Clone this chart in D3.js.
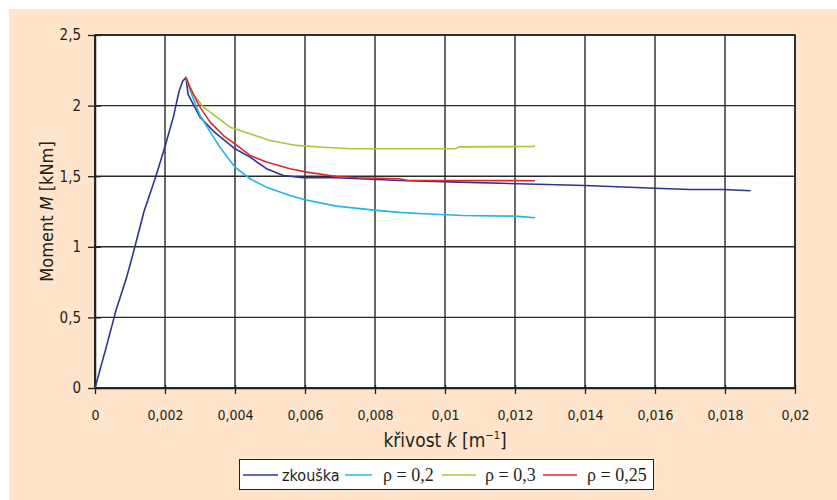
<!DOCTYPE html>
<html lang="cs">
<meta charset="utf-8">
<head>
    <script src="https://d3js.org/d3.v7.min.js"></script>
    <style>
        body { margin: 0; background: #fff; }
        text { font-family: "DejaVu Sans Condensed", "DejaVu Sans", sans-serif; fill: #231f20; }
        text.serif { font-family: "Liberation Serif", "DejaVu Serif", serif; }
    </style>
</head>
<body>
<script>
// curvature k [1/m] vs moment M [kNm]
const zkouska = [
    [0, 0], [0.0003, 0.27], [0.0006, 0.55], [0.0009, 0.78], [0.00114, 1.0], [0.0014, 1.25],
    [0.00174, 1.5], [0.002, 1.71], [0.00224, 1.92], [0.0024, 2.1], [0.0025, 2.17], [0.0026, 2.2],
    [0.00266, 2.08], [0.003, 1.918], [0.00338, 1.82], [0.004, 1.694], [0.00443, 1.635],
    [0.0049, 1.553], [0.00538, 1.505], [0.00595, 1.489], [0.0069, 1.489], [0.0087, 1.47],
    [0.0104, 1.458], [0.014, 1.434], [0.016, 1.415], [0.017, 1.406], [0.01795, 1.406], [0.01873, 1.397]
];
const rho02 = [
    [0.0026, 2.2], [0.00276, 2.08], [0.003, 1.93], [0.00333, 1.8], [0.00357, 1.705], [0.004, 1.564],
    [0.00443, 1.482], [0.0049, 1.422], [0.00557, 1.364], [0.006, 1.333], [0.0069, 1.288],
    [0.00805, 1.258], [0.0087, 1.244], [0.00938, 1.234], [0.0105, 1.222], [0.012, 1.217], [0.01257, 1.206]
];
const rho03 = [
    [0.0026, 2.2], [0.00281, 2.08], [0.0031, 1.989], [0.00348, 1.918], [0.00386, 1.847], [0.00443, 1.8],
    [0.005, 1.753], [0.00576, 1.718], [0.00652, 1.705], [0.0073, 1.694], [0.0087, 1.694],
    [0.0103, 1.694], [0.0104, 1.708], [0.01252, 1.71], [0.01257, 1.717]
];
const rho025 = [
    [0.0026, 2.2], [0.00271, 2.13], [0.003, 1.989], [0.00329, 1.883], [0.00367, 1.788], [0.00405, 1.718],
    [0.00443, 1.647], [0.0049, 1.6], [0.00557, 1.553], [0.00605, 1.529], [0.0069, 1.498],
    [0.00748, 1.489], [0.0087, 1.482], [0.00895, 1.47], [0.01257, 1.468]
];
const seriesNames = ["zkouška", "ρ = 0,2", "ρ = 0,3", "ρ = 0,25"];
const seriesData = [zkouska, rho02, rho03, rho025];
const colors = ["#2b3590", "#22b6e2", "#a7c83e", "#e5232b"];
const xTicks = [0, 0.002, 0.004, 0.006, 0.008, 0.01, 0.012, 0.014, 0.016, 0.018, 0.02];
const yTicks = [0, 0.5, 1, 1.5, 2, 2.5];
const fmt = d => String(d).replace(".", ",");

const W = 837, H = 500;
const margin = {top: 35, right: 42, bottom: 112, left: 95};
const width = W - margin.left - margin.right;
const height = H - margin.top - margin.bottom;

const root = d3.select("body").append("svg")
    .attr("width", W)
    .attr("height", H);

root.append("rect")
    .attr("x", 9).attr("y", 9)
    .attr("width", W - 9).attr("height", H - 9)
    .attr("fill", "#fde4ca");

const svg = root.append("g")
    .attr("transform", "translate(" + margin.left + "," + margin.top + ")");

const x = d3.scaleLinear().domain([0, 0.02]).range([0, width]);
const y = d3.scaleLinear().domain([0, 2.5]).range([height, 0]);

svg.append("rect")
    .attr("width", width).attr("height", height)
    .attr("fill", "#fff");

// grid
svg.append("g")
    .selectAll("line")
    .data(xTicks)
    .join("line")
    .attr("x1", d => x(d)).attr("x2", d => x(d))
    .attr("y1", 0).attr("y2", height)
    .attr("stroke", "#2a2a2a").attr("stroke-width", 1.4);
svg.append("g")
    .selectAll("line")
    .data(yTicks)
    .join("line")
    .attr("x1", 0).attr("x2", width)
    .attr("y1", d => y(d)).attr("y2", d => y(d))
    .attr("stroke", "#2a2a2a").attr("stroke-width", 1.4);

// axes
const xAxis = svg.append("g")
    .attr("transform", "translate(0," + height + ")")
    .call(d3.axisBottom(x).tickValues(xTicks).tickFormat(fmt).tickSizeInner(6).tickSizeOuter(0).tickPadding(16));
xAxis.selectAll(".tick line").attr("y1", -3).attr("stroke", "#231f20").attr("stroke-width", 1.3);
xAxis.select(".domain").attr("stroke", "#231f20").attr("stroke-width", 1.5);
xAxis.selectAll("text").attr("font-size", 14).attr("font-family", null);

const yAxis = svg.append("g")
    .call(d3.axisLeft(y).tickValues(yTicks).tickFormat(fmt).tickSizeInner(7).tickSizeOuter(0).tickPadding(7));
yAxis.selectAll(".tick line").attr("x1", 6).attr("x2", -7).attr("stroke", "#231f20").attr("stroke-width", 1.3);
yAxis.select(".domain").attr("stroke", "#231f20").attr("stroke-width", 1.5);
yAxis.selectAll("text").attr("font-size", 15).attr("font-family", null);

// right / top border
svg.append("rect")
    .attr("width", width).attr("height", height)
    .attr("fill", "none").attr("stroke", "#231f20").attr("stroke-width", 1.5);

// series
const line = d3.line().x(d => x(d[0])).y(d => y(d[1]));
seriesData.forEach((s, i) => {
    svg.append("path")
        .datum(s)
        .attr("fill", "none")
        .attr("stroke", colors[i])
        .attr("stroke-width", 1.6)
        .attr("stroke-linejoin", "round")
        .attr("d", line);
});

// axis titles
const xt = root.append("text")
    .attr("x", margin.left + width / 2).attr("y", 447)
    .attr("text-anchor", "middle").attr("font-size", 19);
xt.append("tspan").text("křivost ");
xt.append("tspan").attr("font-style", "italic").text("k");
xt.append("tspan").text(" [m");
xt.append("tspan").attr("font-size", 11).attr("dy", -8).text("−1");
xt.append("tspan").attr("dy", 8).text("]");

const yt = root.append("text")
    .attr("transform", "translate(53," + (margin.top + height / 2) + ") rotate(-90)")
    .attr("text-anchor", "middle").attr("font-size", 18);
yt.append("tspan").text("Moment ");
yt.append("tspan").attr("font-style", "italic").text("M");
yt.append("tspan").text(" [kNm]");

// legend
root.append("rect")
    .attr("x", 239.5).attr("y", 459.5)
    .attr("width", 414).attr("height", 30)
    .attr("fill", "#ffffff").attr("stroke", "#231f20").attr("stroke-width", 1);
const legLine = [[243, 278], [345, 372], [442, 476], [543, 577]];
const legText = [282, 383, 485, 587];
seriesNames.forEach((n, i) => {
    root.append("line")
        .attr("x1", legLine[i][0]).attr("x2", legLine[i][1])
        .attr("y1", 475).attr("y2", 475)
        .attr("stroke", colors[i]).attr("stroke-width", 1.5);
    root.append("text")
        .attr("class", i === 0 ? null : "serif")
        .attr("x", legText[i]).attr("y", 481)
        .attr("font-size", i === 0 ? 16 : 18).text(n);
});
</script>
</body>
</html>
